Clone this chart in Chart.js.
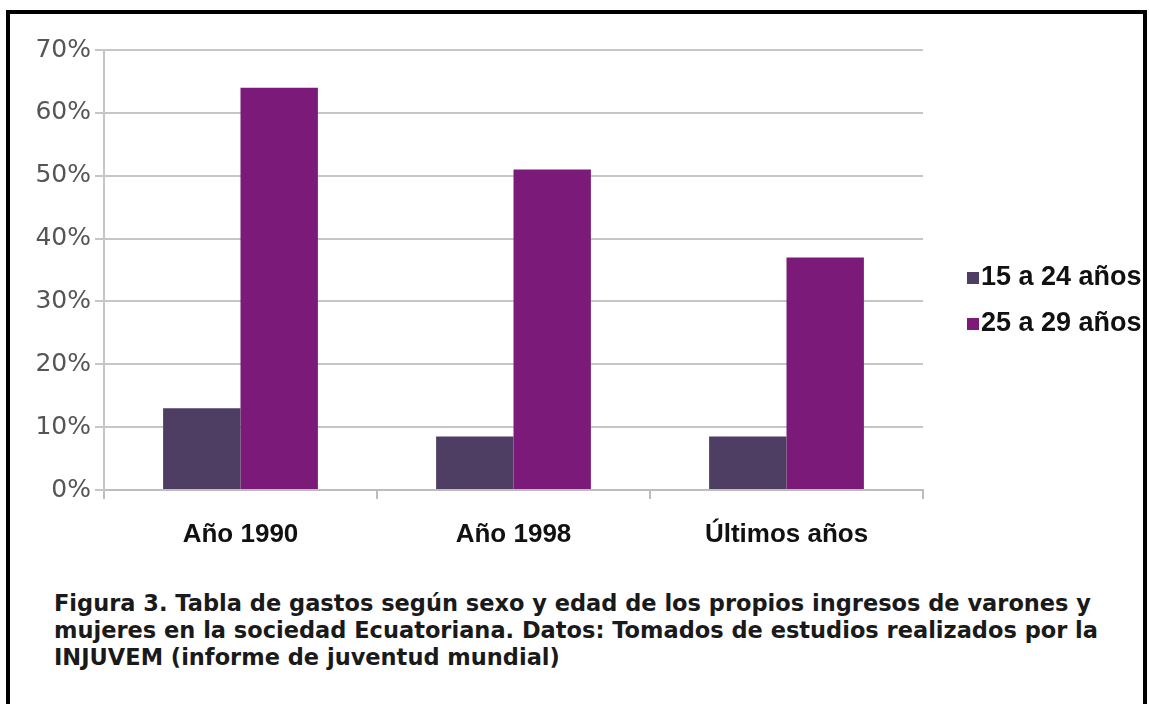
<!DOCTYPE html>
<html>
<head>
<meta charset="utf-8">
<script src="https://cdn.jsdelivr.net/npm/chart.js@4/dist/chart.umd.min.js"></script>
<style>
  html, body { margin: 0; padding: 0; background: #fff; }
  body { width: 1149px; height: 704px; position: relative; overflow: hidden; }
  #frame { position: absolute; left: 6px; top: 10px; width: 1133px; height: 700px;
           border-left: 4px solid #000; border-top: 4px solid #000; border-right: 4px solid #000; }
  #wrap { position: absolute; left: 0; top: 0; width: 1149px; height: 560px; }
  #legend { position: absolute; left: 967px; top: 262px; font: bold 27px "Liberation Sans", Arial, sans-serif; color: #111; white-space: nowrap; }
  #legend div { height: 46px; line-height: 28px; }
  #legend span.box { display: inline-block; width: 12px; height: 12px; margin-right: 2px; vertical-align: 1px; }
  #caption { position: absolute; left: 54px; top: 590px; font: bold 22.5px "DejaVu Sans", sans-serif; line-height: 27px; color: #1a1a1a; white-space: nowrap; }
</style>
</head>
<body>
<div id="frame"></div>
<div id="wrap"><canvas id="myChart"></canvas></div>
<div id="legend"></div>
<div id="caption">Figura 3. Tabla de gastos según sexo y edad de los propios ingresos de varones y<br>mujeres en la sociedad Ecuatoriana. Datos: Tomados de estudios realizados por la<br>INJUVEM (informe de juventud mundial)</div>
<script>
// datos
const categorias = ['Año 1990', 'Año 1998', 'Últimos años'];
const series = ['15 a 24 años', '25 a 29 años'];
const jovenes = [13, 8.5, 8.5];
const adultos = [64, 51, 37];
const colores = ['#4f3e63', '#7b1a79'];
const ticksY = [0, 10, 20, 30, 40, 50, 60, 70];

// leyenda
const leg = document.getElementById('legend');
series.forEach((s, i) => {
    const d = document.createElement('div');
    d.innerHTML = '<span class="box" style="background:' + colores[i] + '"></span>' + s;
    leg.appendChild(d);
});

const ctx = document.getElementById('myChart').getContext('2d');
const myChart = new Chart(ctx, {
    type: 'bar',
    data: {
        labels: categorias,
        datasets: [{
            label: series[0],
            data: jovenes,
            backgroundColor: colores[0],
            barPercentage: 1,
            categoryPercentage: 0.567
        }, {
            label: series[1],
            data: adultos,
            backgroundColor: colores[1],
            barPercentage: 1,
            categoryPercentage: 0.567
        }]
    },
    options: {
        responsive: true,
        maintainAspectRatio: false,
        devicePixelRatio: 1,
        animation: false,
        layout: { padding: { top: 50, right: 226, left: 0, bottom: 0 } },
        plugins: { legend: { display: false }, tooltip: { enabled: false } },
        scales: {
            x: {
                afterFit: (s) => { s.height = 70; },
                grid: { drawOnChartArea: false, drawTicks: true, tickLength: 9, color: '#bdbdbd', lineWidth: 2 },
                border: { color: '#bdbdbd', width: 2 },
                ticks: { color: '#111', padding: 20, font: { family: 'Liberation Sans', size: 26, weight: 'bold' } }
            },
            y: {
                min: 0,
                max: 70,
                afterFit: (s) => { s.width = 104; },
                afterBuildTicks: (s) => { s.ticks = ticksY.map(v => ({ value: v })); },
                grid: { color: '#c6c6c6', lineWidth: 2, tickLength: 9 },
                border: { color: '#c6c6c6', width: 2 },
                ticks: {
                    color: '#555',
                    padding: 4,
                    font: { family: 'DejaVu Sans', size: 25 },
                    callback: (v) => v + '%'
                }
            }
        }
    }
});
</script>
</body>
</html>
